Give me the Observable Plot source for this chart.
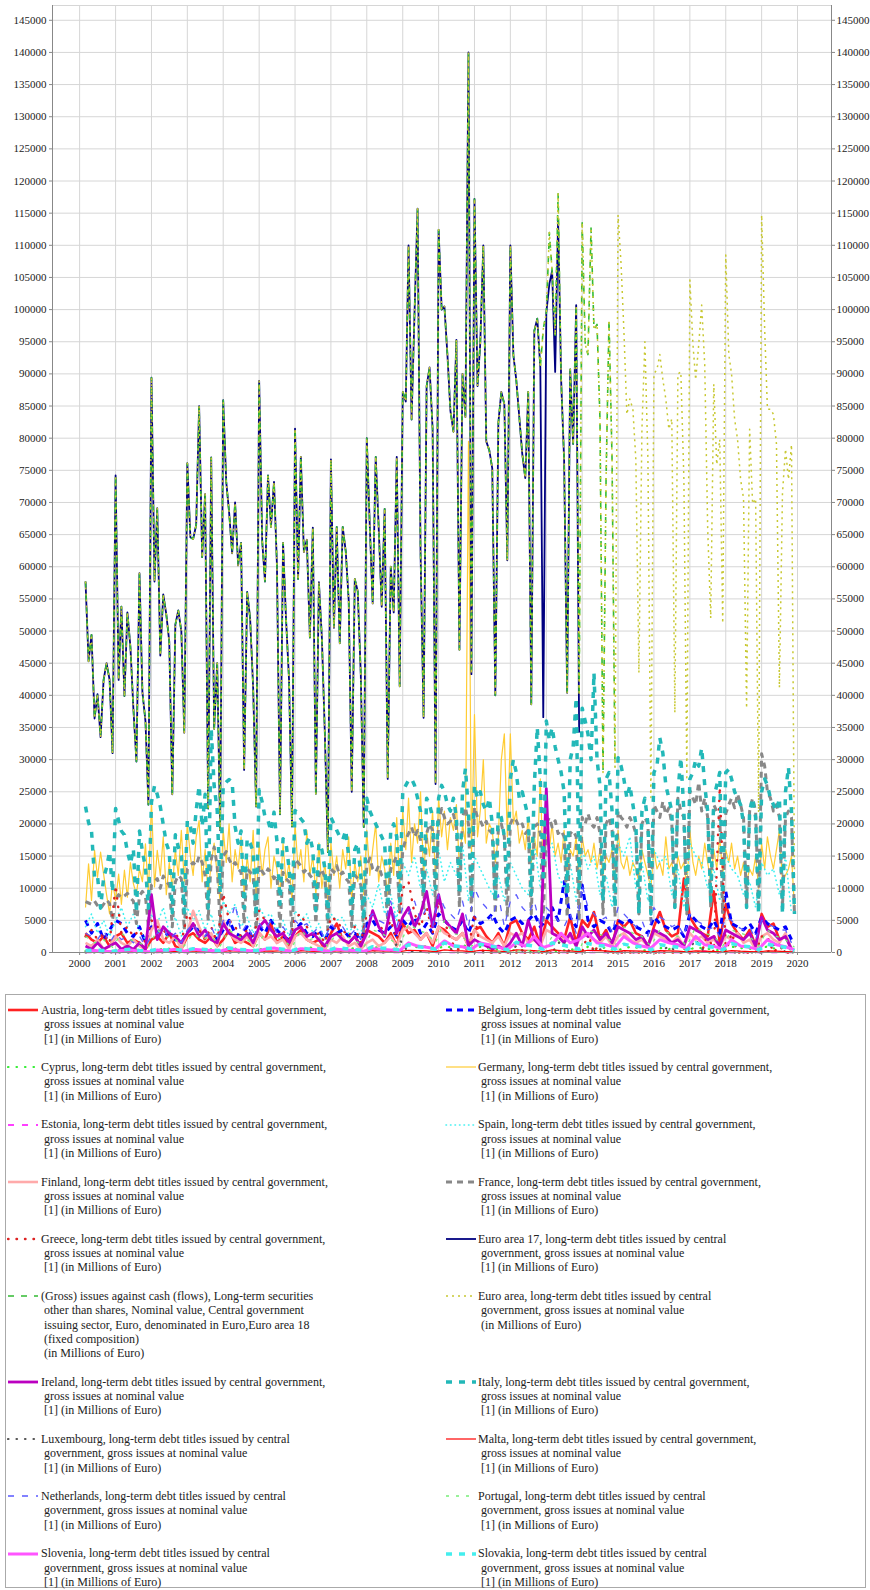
<!DOCTYPE html>
<html><head><meta charset="utf-8">
<script src="https://cdn.jsdelivr.net/npm/d3@7"></script>
<script src="https://cdn.jsdelivr.net/npm/@observablehq/plot@0.6"></script>
<style>
html,body{margin:0;padding:0;background:#fff;}
body{width:870px;height:1590px;position:relative;font-family:"Liberation Serif",serif;overflow:hidden;}
#chart{position:absolute;left:0;top:0;}
#chart svg text{font-family:"Liberation Serif",serif;}
#legend{position:absolute;left:5px;top:994px;width:861px;height:594px;border:1px solid #aaa;box-sizing:border-box;}
.entry{position:absolute;font-family:"Liberation Serif",serif;font-size:12px;line-height:14.3px;color:#222;white-space:nowrap;}
.entry .l{padding-left:3px;}
.entry .l0{padding-left:0;}
.sw{position:absolute;}
</style></head><body>
<div id="chart"></div><div id="legend"></div>
<script>
// ---------- DATA (millions of euro) ----------
// monthly series start March 2000, end December 2019
const euroArea = [
/*2000*/ 57700,45300,49400,36400,40200,33500,42400,45000,42400,31000,
/*2001*/ 74200,42400,53800,39900,52900,47500,38000,29700,59000,40500,36000,23000,
/*2002*/ 89400,57700,69100,46200,55700,52600,48400,24600,51000,53200,50000,34200,
/*2003*/ 76100,64600,64300,66500,85000,61500,71300,22400,77000,34800,45000,19000,
/*2004*/ 85900,73200,68500,62100,70000,60200,63700,28400,56100,52000,41100,22700,
/*2005*/ 88900,64000,57700,74200,66200,73200,60200,21500,63700,52000,42400,19600,
/*2006*/ 81500,58100,77100,62300,64200,49000,66100,24700,57600,49000,33800,15600,
/*2007*/ 76700,50500,66200,48100,66200,62400,54800,25000,58100,56200,43300,19500,
/*2008*/ 80000,66200,54300,77100,66200,53800,69000,27000,60000,52900,77100,41400,
/*2009*/ 87200,85700,110000,82900,99500,115700,62400,36500,88100,91000,81400,26200,
/*2010*/ 112400,100000,100500,92900,84300,81000,95300,47100,90000,83300,140000,43300,
/*2011*/ 117200,88100,94800,110000,79500,78100,75300,40000,82400,87200,85300,61000,
/*2012*/ 110000,92900,89100,83300,77600,73800,87200,38600,96700,98600,91000,97000,
/*2013*/ 99500,112000,106000,96000,118000,89000,76700,40400,90700,79100,100700,40000,
/*2014*/ 113500,94600,93000,112700,96900,97700,83000,28000,73600,98400,76700,28800,
/*2015*/ 114700,107000,96900,83700,86100,84500,76700,43500,81400,95000,76700,24100,
/*2016*/ 90000,90700,93000,89100,86100,81400,83000,37300,90000,90300,73600,27200,
/*2017*/ 104600,94600,89100,94600,100700,91400,65900,52000,88400,75900,79800,51200,
/*2018*/ 108500,93000,90000,83000,79800,73600,70600,38000,81400,69800,70600,21800,
/*2019*/ 114700,96900,84500,84500,83700,79100,41200,71400,78300,73600,79000,12000
];
// Euro area 17 and Euro area 18 follow the same path up to their last month; where the navy line differs:
const euroArea17Last = "2013-12";
const euroArea18Last = "2014-12";
const euroArea17Diff = [["2012-12",36600],["2013-02",104000],["2013-03",106000],["2013-04",90300],["2013-05",114000],["2013-12",34200]];

const italy = [
/*2000*/ 22700,20200,18900,11600,11900,6900,11600,13200,15700,9400,
/*2001*/ 22400,20500,18900,18300,15700,13800,16100,6200,18900,15700,13200,6900,
/*2002*/ 23400,25900,24600,22700,19900,17000,15700,6200,18300,16400,15100,6200,
/*2003*/ 20500,19600,17000,22100,25900,19600,24600,6900,34800,25900,22100,9400,
/*2004*/ 26000,26500,26900,26500,19600,17000,18900,6900,17700,17000,15700,5600,
/*2005*/ 25300,23400,21100,20500,18900,21800,17300,7500,17700,17000,13200,6900,
/*2006*/ 22100,21500,20800,20200,17000,18000,16000,6500,17000,16000,13000,5500,
/*2007*/ 21000,20000,19000,18000,17500,19000,15000,6000,16000,17000,12000,5000,
/*2008*/ 24000,22000,21000,20000,19000,18000,17000,7000,19000,20000,18000,8000,
/*2009*/ 25000,26000,26800,27000,26000,24000,22000,9000,24000,23000,21000,10000,
/*2010*/ 24000,26000,25000,23000,22000,24000,21000,9000,25000,28600,22000,9000,
/*2011*/ 26000,24000,25000,23000,22000,24000,20000,8000,22000,21000,18000,10000,
/*2012*/ 27000,30000,28000,24000,25000,23000,21000,9000,26000,35000,27000,11000,
/*2013*/ 36000,33000,35000,32000,30000,28000,25000,9000,30000,32000,39600,10000,
/*2014*/ 38000,36000,34000,30000,43500,30000,26000,8000,27000,28000,22000,7000,
/*2015*/ 30300,29000,27000,24000,26000,23000,20000,6000,22000,24000,20000,6000,
/*2016*/ 28000,29000,33400,31000,26000,24000,22000,7000,25000,30300,22000,6000,
/*2017*/ 27000,28000,30000,29000,31800,26000,22000,8000,24000,26000,28000,9000,
/*2018*/ 28000,28500,27000,25000,24000,23000,20000,7000,22000,24000,21000,6000,
/*2019*/ 25000,27000,26000,24000,23000,22000,24000,6000,25000,28800,22000,6000
];
const germany = [
/*2000*/ 7000,13800,8100,15900,11700,15600,12200,9000,6000,11000,
/*2001*/ 8100,12200,7500,12800,8600,14000,10700,9000,13000,11000,16900,9000,
/*2002*/ 23700,10200,15900,12000,18000,9000,14000,10000,16000,12000,19000,11000,
/*2003*/ 20000,15000,12000,18000,20500,11000,16000,9000,14000,17000,12000,8000,
/*2004*/ 19000,14000,20000,11000,16000,13000,18000,9000,15000,11000,19000,8000,
/*2005*/ 17000,12000,16000,18000,10000,15000,13000,9000,17000,11000,14000,8000,
/*2006*/ 20000,13000,16000,11000,19000,12000,15000,9000,17000,10000,14000,8000,
/*2007*/ 17000,12000,15000,10000,16000,13000,18000,8000,14000,11000,15000,9000,
/*2008*/ 19000,12000,16000,20000,11000,15000,13000,9000,17000,12000,21000,10000,
/*2009*/ 22000,16000,24000,14000,20000,17000,25000,12000,19000,15000,22000,11000,
/*2010*/ 24000,18000,22000,16000,21000,19000,23000,13000,20000,17000,79500,15000,
/*2011*/ 37000,18000,22000,30000,17000,20000,19000,14000,18000,30000,34000,18000,
/*2012*/ 34000,20000,22000,17000,19000,16000,21000,14000,18000,15000,27000,12000,
/*2013*/ 18000,16000,20000,15000,17000,14000,19000,12000,16000,15000,18000,11000,
/*2014*/ 18000,15000,16000,14000,17000,13000,16000,12000,15000,14000,16000,11000,
/*2015*/ 19000,14000,13000,15000,12000,14000,13000,11000,16000,14000,12000,10000,
/*2016*/ 16000,13000,14000,12000,18000,13000,14000,11000,15000,13000,14000,10000,
/*2017*/ 19000,14000,12000,15000,13000,17000,14000,11000,16000,13000,18000,12000,
/*2018*/ 16000,14000,17000,13000,15000,12000,14000,11000,13000,12000,15000,10000,
/*2019*/ 17000,13000,18000,15000,13000,16000,19000,11000,12000,13000,15000,7000
];
const france = [
/*2000*/ 7900,7700,7500,8000,7300,6800,7500,8200,7600,5000,
/*2001*/ 8300,9000,8500,8800,9200,8500,8000,4500,8800,9500,8700,4000,
/*2002*/ 10500,11000,11500,10000,11900,11000,10500,4000,11000,12000,11500,3500,
/*2003*/ 13000,13500,14000,13500,15000,14000,12000,5000,14500,16400,13500,4000,
/*2004*/ 15000,15700,14500,13500,14000,13000,12500,4500,13000,12500,12000,3500,
/*2005*/ 13500,12600,12000,13000,12500,11500,12000,4000,12500,11500,11000,3000,
/*2006*/ 14500,14000,13500,12500,13000,12000,11500,4500,12000,13000,11500,3500,
/*2007*/ 13000,12500,13500,12000,12500,11500,11000,4000,12000,11500,10500,3000,
/*2008*/ 13500,14700,13000,12500,13500,12000,11500,5000,13000,14000,15000,6000,
/*2009*/ 16000,17600,18500,19500,18000,19000,17500,6500,18500,20000,19000,7000,
/*2010*/ 20500,22400,21000,20000,20400,21500,19500,7000,21000,22600,20000,6500,
/*2011*/ 22600,21000,20500,19500,20400,19000,18500,6000,19500,20000,18000,5500,
/*2012*/ 20000,21000,20500,19500,20000,18500,19000,6000,19500,20000,18500,5000,
/*2013*/ 20000,21000,19500,20500,18500,19000,18000,5500,18500,19000,18000,5000,
/*2014*/ 21000,20000,21600,20000,19500,21000,18500,6000,20000,21000,19000,5500,
/*2015*/ 22000,21000,20500,19500,21000,20000,18500,6000,20000,21000,20000,5000,
/*2016*/ 23000,22000,21000,23500,21500,22500,20000,7000,24000,22000,21000,6000,
/*2017*/ 25200,24000,23000,26500,22000,24000,21000,7000,23000,22000,21000,6000,
/*2018*/ 21600,23000,24000,22500,24700,23000,21000,7500,22000,24000,22000,6500,
/*2019*/ 30900,29000,25000,24000,22000,23000,21000,7000,21000,22000,21000,6000
];
// every second month, March 2000 to November 2019
const spain = [
/*2000*/ 4000,6000,3000,5000,2500,
/*2001*/ 5000,7000,4000,6000,3500,2000,
/*2002*/ 6000,4500,7000,3000,5500,2500,
/*2003*/ 7000,5000,6500,3500,6000,2500,
/*2004*/ 8000,6000,7500,4000,5500,3000,
/*2005*/ 7000,5500,6000,3500,5000,2500,
/*2006*/ 6500,5000,6000,3000,4500,2000,
/*2007*/ 6000,5000,5500,3000,4500,2500,
/*2008*/ 9000,7000,10700,6000,9000,5000,
/*2009*/ 14000,12000,15000,10000,13000,9000,
/*2010*/ 16000,11000,14000,12000,17000,8000,
/*2011*/ 15000,13000,11000,9000,12000,8000,
/*2012*/ 14000,12000,10000,9000,17000,10000,
/*2013*/ 15000,17000,12000,10000,14000,8000,
/*2014*/ 16000,13000,15000,9000,12000,7000,
/*2015*/ 17000,15000,18000,10000,14000,8000,
/*2016*/ 16000,14000,15000,9000,13000,7000,
/*2017*/ 17000,15000,14000,10000,13000,8000,
/*2018*/ 15000,13000,12000,9000,11000,7000,
/*2019*/ 14000,12000,13000,9000,15000,6000
];
const belgium = [
/*2000*/ 5000,3000,4500,2000,3500,
/*2001*/ 5000,4500,3000,2500,4000,1500,
/*2002*/ 4000,3500,2500,3000,2000,1500,
/*2003*/ 3000,4000,3500,2500,3000,2000,
/*2004*/ 3500,5000,3000,2500,4000,2000,
/*2005*/ 4000,3000,5000,3500,2500,2000,
/*2006*/ 3500,4500,3000,2500,3500,2000,
/*2007*/ 4000,3000,3500,2500,3000,2000,
/*2008*/ 4500,5000,3500,3000,4000,2500,
/*2009*/ 5000,4000,5500,3000,4500,3000,
/*2010*/ 6000,5000,4000,3500,5000,3000,
/*2011*/ 5500,4500,5000,6000,4000,3000,
/*2012*/ 5000,5500,4500,5000,6000,4000,
/*2013*/ 5000,7000,5000,11000,5500,4000,
/*2014*/ 10500,5000,4000,5000,4500,3000,
/*2015*/ 5000,4500,5000,4000,3500,3000,
/*2016*/ 5500,4500,4000,3500,4000,2500,
/*2017*/ 6000,5000,4000,3500,5000,3000,
/*2018*/ 9500,4500,4000,3500,4500,3000,
/*2019*/ 5500,4500,4000,3500,4000,2000
];
const netherlands = [
/*2000*/ 3000,2500,2000,3500,1500,
/*2001*/ 3000,2000,2500,1500,2500,1000,
/*2002*/ 2500,3000,4000,2000,3000,1500,
/*2003*/ 3500,4500,3000,2500,4000,2000,
/*2004*/ 5000,4000,7500,3000,4500,2000,
/*2005*/ 4500,3500,5000,3000,4000,2500,
/*2006*/ 5000,4000,4500,3000,4000,2000,
/*2007*/ 4500,3500,4000,2500,3500,2000,
/*2008*/ 5000,6000,5000,4500,8000,4000,
/*2009*/ 7000,6000,8000,5000,7000,4000,
/*2010*/ 9000,7000,6000,5000,8000,4000,
/*2011*/ 10000,8000,7000,5000,9000,4000,
/*2012*/ 8000,9000,7000,6000,8000,4000,
/*2013*/ 7000,6000,5000,4000,6000,3000,
/*2014*/ 10500,7000,6000,5000,5500,3000,
/*2015*/ 7000,6000,5000,4000,5000,2500,
/*2016*/ 7000,5500,5000,4000,4500,2500,
/*2017*/ 6000,5000,4500,3500,4000,2500,
/*2018*/ 5500,5000,4000,3500,4000,2000,
/*2019*/ 5000,4500,4000,3500,3500,1500
];
const austria = [
/*2000*/ 3000,2000,1500,2500,1000,
/*2001*/ 2500,3000,1500,2000,1500,500,
/*2002*/ 2000,2500,1500,3000,1000,500,
/*2003*/ 2500,3000,2000,1500,2500,1000,
/*2004*/ 2000,3500,1500,2000,1500,1000,
/*2005*/ 3000,2000,4500,1500,2500,1000,
/*2006*/ 2500,3500,2000,1500,2000,500,
/*2007*/ 3000,4500,2000,1500,2500,1000,
/*2008*/ 3500,3000,2500,1500,3000,1000,
/*2009*/ 4500,3000,3500,2000,3000,1000,
/*2010*/ 4000,3500,2500,2000,3000,1000,
/*2011*/ 3500,4000,2500,1500,3000,1000,
/*2012*/ 4500,5000,3000,2000,4000,1000,
/*2013*/ 5000,4000,3000,2000,5500,1500,
/*2014*/ 5000,4000,6300,2000,3500,1000,
/*2015*/ 5000,4000,5000,3000,2500,1000,
/*2016*/ 4000,6300,3500,2500,3000,11500,
/*2017*/ 5500,4000,3000,2500,9500,1500,
/*2018*/ 7500,4500,3000,2000,3500,1000,
/*2019*/ 6000,4000,4500,2000,2500,500
];
const ireland = [
/*2000*/ 1000,500,1500,500,1000,
/*2001*/ 1500,500,1000,500,1500,500,
/*2002*/ 9000,2000,4000,3000,2500,1500,
/*2003*/ 3000,4500,2500,3500,2000,1500,
/*2004*/ 4500,3000,2500,2000,3000,1500,
/*2005*/ 4000,5000,3500,2500,3000,1500,
/*2006*/ 3500,4000,2500,3000,2000,1000,
/*2007*/ 2500,3000,2000,1500,2500,1000,
/*2008*/ 3000,6500,4000,2500,7000,3000,
/*2009*/ 5500,7000,4000,6000,9500,4000,
/*2010*/ 9000,5000,4000,3000,6000,1000,
/*2011*/ 2000,1500,1000,500,1000,500,
/*2012*/ 1500,3000,1000,5000,2000,1000,
/*2013*/ 25500,3000,2500,1500,3000,1000,
/*2014*/ 4000,2500,3500,2000,3000,1500,
/*2015*/ 4000,3500,3000,2000,2500,1000,
/*2016*/ 3500,3000,2500,1500,2000,1000,
/*2017*/ 4000,3500,3000,2000,2500,1000,
/*2018*/ 3500,3000,2500,2000,3000,1000,
/*2019*/ 5500,3500,3000,2000,2500,500
];
const greece = [
/*2000*/ 2500,3500,2000,3000,1500,
/*2001*/ 10400,3000,4000,2500,3500,1500,
/*2002*/ 5000,4000,3500,2500,3000,1500,
/*2003*/ 6000,4500,3500,2000,4000,1500,
/*2004*/ 9100,5000,4000,2500,3500,2000,
/*2005*/ 6500,5000,4000,2500,3500,1500,
/*2006*/ 5500,6000,4000,2500,3000,1500,
/*2007*/ 5500,5000,3500,2500,4000,1500,
/*2008*/ 6000,5500,4500,3000,5000,2000,
/*2009*/ 10000,11000,6000,4000,7000,3000,
/*2010*/ 8000,5000,2000,500,500,500,
/*2011*/ 6000,500,0,0,0,0,
/*2012*/ 0,0,0,0,0,0,
/*2013*/ 0,0,0,0,0,0,
/*2014*/ 0,3000,0,1500,0,0,
/*2015*/ 0,0,0,0,0,0,
/*2016*/ 0,0,0,0,0,0,
/*2017*/ 0,0,0,3000,0,25700,
/*2018*/ 0,3000,0,0,0,0,
/*2019*/ 2500,2500,0,1000,0,0
];
const finland = [
/*2000*/ 1500,1000,2000,500,1000,
/*2001*/ 2500,1500,1000,2000,1000,500,
/*2002*/ 3500,5000,2000,1500,2500,500,
/*2003*/ 3000,6500,4000,2000,3000,1000,
/*2004*/ 5000,3000,2000,1500,2500,1000,
/*2005*/ 3000,2000,2500,1500,2000,500,
/*2006*/ 2500,3000,2000,1500,1000,500,
/*2007*/ 2000,1500,2500,1000,1500,500,
/*2008*/ 1500,2000,1000,1500,2500,1000,
/*2009*/ 3500,4000,3000,2000,3000,1500,
/*2010*/ 4000,3000,2500,2000,3000,1000,
/*2011*/ 3500,2500,2000,1500,2500,1000,
/*2012*/ 3000,2500,3000,1500,2000,1000,
/*2013*/ 3500,3000,2500,2000,2500,1000,
/*2014*/ 3000,2500,2000,1500,2500,1000,
/*2015*/ 2500,3000,2000,1500,2000,1000,
/*2016*/ 3000,2500,2000,1500,2500,1000,
/*2017*/ 3000,2000,2500,1500,2000,1000,
/*2018*/ 2500,2000,3000,1500,2000,500,
/*2019*/ 2500,3000,2000,1500,3000,500
];
// quarterly readings, March 2000 to December 2019
const cyprus = [
/*2000*/ 200,400,300,100, /*2001*/ 500,300,600,200, /*2002*/ 400,700,300,200, /*2003*/ 600,400,500,300,
/*2004*/ 800,500,400,300, /*2005*/ 700,600,500,200, /*2006*/ 500,800,400,300, /*2007*/ 600,400,700,200,
/*2008*/ 900,600,500,300, /*2009*/ 1200,800,1000,500, /*2010*/ 1000,700,1300,400, /*2011*/ 900,600,500,200,
/*2012*/ 400,300,200,100, /*2013*/ 300,200,600,100, /*2014*/ 900,500,800,300, /*2015*/ 600,1000,400,200,
/*2016*/ 700,500,1100,300, /*2017*/ 800,600,500,200, /*2018*/ 900,700,600,300, /*2019*/ 1000,500,800,200
];
const estonia = [
/*2000*/ 0,0,0,0, /*2001*/ 0,0,0,0, /*2002*/ 0,50,0,0, /*2003*/ 0,0,0,0,
/*2004*/ 0,0,50,0, /*2005*/ 0,0,0,0, /*2006*/ 0,0,0,0, /*2007*/ 0,0,0,0,
/*2008*/ 0,0,0,0, /*2009*/ 0,100,0,0, /*2010*/ 0,0,0,0, /*2011*/ 0,0,0,0,
/*2012*/ 0,0,0,0, /*2013*/ 0,0,0,0, /*2014*/ 0,0,0,0, /*2015*/ 0,0,0,0,
/*2016*/ 0,0,0,0, /*2017*/ 0,200,0,0, /*2018*/ 0,0,0,0, /*2019*/ 0,0,0,0
];
const luxembourg = [
/*2000*/ 0,0,0,0, /*2001*/ 0,0,0,0, /*2002*/ 0,0,0,0, /*2003*/ 0,0,100,0,
/*2004*/ 0,0,0,0, /*2005*/ 0,0,0,0, /*2006*/ 0,0,0,0, /*2007*/ 0,0,0,0,
/*2008*/ 0,0,0,2000, /*2009*/ 0,300,0,0, /*2010*/ 2000,0,0,0, /*2011*/ 0,0,0,0,
/*2012*/ 1000,0,0,0, /*2013*/ 0,2000,0,0, /*2014*/ 0,750,0,0, /*2015*/ 0,0,0,0,
/*2016*/ 0,1000,0,0, /*2017*/ 2000,0,0,0, /*2018*/ 0,0,0,0, /*2019*/ 0,1700,0,0
];
const malta = [
/*2000*/ 100,200,100,100, /*2001*/ 200,150,100,50, /*2002*/ 200,150,200,100, /*2003*/ 250,200,150,100,
/*2004*/ 300,200,150,100, /*2005*/ 250,200,300,100, /*2006*/ 300,200,150,100, /*2007*/ 250,300,200,100,
/*2008*/ 300,250,200,150, /*2009*/ 350,300,250,150, /*2010*/ 400,300,250,150, /*2011*/ 350,300,200,150,
/*2012*/ 400,350,300,150, /*2013*/ 400,300,250,150, /*2014*/ 350,300,250,100, /*2015*/ 300,250,200,100,
/*2016*/ 300,250,200,100, /*2017*/ 250,200,150,100, /*2018*/ 300,200,150,100, /*2019*/ 250,200,150,100
];
const portugal = [
/*2000*/ 2500,1500,2000,800, /*2001*/ 3000,2000,1500,800, /*2002*/ 3500,2500,2000,1000, /*2003*/ 3000,2000,2500,1000,
/*2004*/ 3500,2500,2000,1000, /*2005*/ 3000,2500,2000,800, /*2006*/ 3500,2000,2500,1000, /*2007*/ 3000,2500,2000,800,
/*2008*/ 3500,3000,2000,1000, /*2009*/ 4500,3500,3000,1500, /*2010*/ 5000,3000,2500,1000, /*2011*/ 1500,500,200,100,
/*2012*/ 200,300,200,100, /*2013*/ 2500,1500,500,300, /*2014*/ 3500,3000,2500,1000, /*2015*/ 4000,3000,2500,1000,
/*2016*/ 3500,3000,2500,1000, /*2017*/ 4000,3000,2500,1000, /*2018*/ 3500,3000,2500,1000, /*2019*/ 3500,2500,2000,800
];
const slovenia = [
/*2000*/ 200,300,200,100, /*2001*/ 300,400,200,100, /*2002*/ 400,300,500,200, /*2003*/ 500,400,300,200,
/*2004*/ 600,400,300,200, /*2005*/ 500,700,400,200, /*2006*/ 600,500,400,200, /*2007*/ 500,400,300,200,
/*2008*/ 600,500,400,300, /*2009*/ 1500,1000,800,600, /*2010*/ 1800,1000,900,500, /*2011*/ 1500,1200,800,500,
/*2012*/ 1500,1000,2500,800, /*2013*/ 1200,3000,1500,2000, /*2014*/ 3000,1500,1200,800, /*2015*/ 2500,1500,1000,700,
/*2016*/ 2000,1500,1200,600, /*2017*/ 2500,1200,1000,500, /*2018*/ 2000,1000,800,500, /*2019*/ 2000,1200,900,400
];
const slovakia = [
/*2000*/ 300,400,300,200, /*2001*/ 400,500,300,200, /*2002*/ 500,400,500,300, /*2003*/ 600,500,400,300,
/*2004*/ 700,500,400,300, /*2005*/ 600,700,500,300, /*2006*/ 700,500,600,300, /*2007*/ 800,600,500,300,
/*2008*/ 900,700,600,400, /*2009*/ 1200,900,800,500, /*2010*/ 1500,1000,900,500, /*2011*/ 1300,1000,800,400,
/*2012*/ 1600,1200,1000,500, /*2013*/ 1500,1200,900,500, /*2014*/ 1400,1100,1000,500, /*2015*/ 1300,1000,900,400,
/*2016*/ 1200,1000,800,400, /*2017*/ 1500,1000,800,400, /*2018*/ 1400,1000,900,400, /*2019*/ 1300,1000,800,300
];

(function () {
// ---------- helpers ----------
const monthDate = i => new Date(Date.UTC(2000, 2 + i, 1));
const toRows = (values, step) => values.map((v, i) => ({date: monthDate(i * step), value: v}));
const ym = s => { const [y, m] = s.split("-").map(Number); return new Date(Date.UTC(y, m - 1, 1)); };
const eaRows = toRows(euroArea, 1);
const ea18Rows = eaRows.filter(d => d.date <= ym(euroArea18Last));
const diff = new Map(euroArea17Diff.map(([k, v]) => [+ym(k), v]));
const ea17Rows = eaRows.filter(d => d.date <= ym(euroArea17Last)).map(d => ({date: d.date, value: diff.has(+d.date) ? diff.get(+d.date) : d.value}));

const std = ["long-term debt titles issued by central government,", "gross issues at nominal value", "[1] (in Millions of Euro)"];
const lines1 = name => [name + ", " + std[0], std[1], std[2]];
const lines2 = name => [name + ", long-term debt titles issued by central", "government, gross issues at nominal value", "[1] (in Millions of Euro)"];

// legend order / drawing order, with styles
const series = [
 {key:"Austria", rows: toRows(austria,2), lines: lines1("Austria"), color:"#ff2222", w:2.6, dash:null},
 {key:"Belgium", rows: toRows(belgium,2), lines: lines1("Belgium"), color:"#0000ff", w:3, dash:"6,5"},
 {key:"Cyprus", rows: toRows(cyprus,3), lines: lines1("Cyprus"), color:"#33ee33", w:2.2, dash:"0.5,8", cap:"round"},
 {key:"Germany", rows: toRows(germany,1), lines: lines1("Germany"), color:"#ffcc33", w:1.2, dash:null},
 {key:"Estonia", rows: toRows(estonia,3), lines: lines1("Estonia"), color:"#ff00ff", w:1.3, dash:"6,8"},
 {key:"Spain", rows: toRows(spain,2), lines: lines1("Spain"), color:"#40f0f0", w:1.6, dash:"0.5,4", cap:"round"},
 {key:"Finland", rows: toRows(finland,2), lines: lines1("Finland"), color:"#ffaaaa", w:2.6, dash:null},
 {key:"France", rows: toRows(france,1), lines: lines1("France"), color:"#888888", w:3, dash:"6,5"},
 {key:"Greece", rows: toRows(greece,2), lines: lines1("Greece"), color:"#dd2222", w:2.4, dash:"0.5,8", cap:"round"},
 {key:"EA17", rows: ea17Rows, lines: ["Euro area 17, long-term debt titles issued by central", "government, gross issues at nominal value", "[1] (in Millions of Euro)"], color:"#000080", w:1.8, dash:null},
 {key:"EA18", rows: ea18Rows, lines: ["(Gross) issues against cash (flows), Long-term securities", "other than shares, Nominal value, Central government", "issuing sector, Euro, denominated in Euro,Euro area 18", "(fixed composition)", "(in Millions of Euro)"], color:"#33bb33", w:1.6, dash:"6,7"},
 {key:"EA", rows: eaRows, lines: ["Euro area, long-term debt titles issued by central", "government, gross issues at nominal value", "(in Millions of Euro)"], color:"#c8c832", w:1.5, dash:"2,4"},
 {key:"Ireland", rows: toRows(ireland,2), lines: lines1("Ireland"), color:"#bb00c0", w:2.8, dash:null},
 {key:"Italy", rows: toRows(italy,1), lines: lines1("Italy"), color:"#22b8b8", w:3.5, dash:"6,7"},
 {key:"Luxembourg", rows: toRows(luxembourg,3), lines: lines2("Luxembourg"), color:"#555555", w:2.2, dash:"0.5,8", cap:"round"},
 {key:"Malta", rows: toRows(malta,3), lines: lines1("Malta"), color:"#ff0000", w:1.2, dash:null},
 {key:"Netherlands", rows: toRows(netherlands,2), lines: lines2("Netherlands"), color:"#5a5aff", w:1.3, dash:"6,8"},
 {key:"Portugal", rows: toRows(portugal,3), lines: lines2("Portugal"), color:"#77ee77", w:1.3, dash:"3,7"},
 {key:"Slovenia", rows: toRows(slovenia,3), lines: lines2("Slovenia"), color:"#ff55ff", w:3, dash:null},
 {key:"Slovakia", rows: toRows(slovakia,3), lines: lines2("Slovakia"), color:"#44eeee", w:3.5, dash:"6,7"}
];

// ---------- chart ----------
const yearTicks = d3.range(2000, 2021).map(y => new Date(Date.UTC(y, 0, 1)));
const yTicks = d3.range(0, 145001, 5000);
const xDomain = [new Date(Date.UTC(1999, 2, 31)), new Date(Date.UTC(2020, 11, 12))];

const chart = Plot.plot({
  width: 870, height: 980,
  marginTop: 5, marginLeft: 52, marginRight: 39, marginBottom: 28,
  x: {type: "utc", domain: xDomain},
  y: {domain: [0, 147300]},
  style: {fontFamily: "Liberation Serif, serif", fontSize: "11px", color: "#222", background: "#fff"},
  marks: [
    Plot.gridX(yearTicks, {stroke: "#d6d6d6", strokeOpacity: 1}),
    Plot.gridY(yTicks, {stroke: "#d6d6d6", strokeOpacity: 1}),
    Plot.frame({stroke: "#d6d6d6"}),
    ...series.map(s => Plot.lineY(s.rows, {x: "date", y: "value", stroke: s.color, strokeWidth: s.w,
        strokeDasharray: s.dash || undefined, strokeLinecap: s.cap || "butt", strokeLinejoin: "round"})),
    Plot.ruleX([xDomain[0]], {stroke: "#888"}),
    Plot.ruleX([xDomain[1]], {stroke: "#888"}),
    Plot.ruleY([0], {stroke: "#888"}),
    Plot.axisY(yTicks, {anchor: "left", tickSize: 3, tickPadding: 3, tickFormat: d3.format("d"), label: null, stroke: "#888"}),
    Plot.axisY(yTicks, {anchor: "right", tickSize: 3, tickPadding: 2, tickFormat: d3.format("d"), label: null, stroke: "#888"}),
    Plot.axisX(yearTicks, {anchor: "bottom", tickSize: 3, tickPadding: 4, tickFormat: d3.utcFormat("%Y"), label: null, stroke: "#888"})
  ]
});
document.getElementById("chart").appendChild(chart);

// ---------- legend ----------
const legend = document.getElementById("legend");
const lh = 14.3;
let rowTop = 8;
const ns = "http://www.w3.org/2000/svg";
for (let r = 0; r < series.length; r += 2) {
  const pair = [series[r], series[r + 1]];
  const maxLines = Math.max(...pair.map(s => s ? s.lines.length : 0));
  pair.forEach((s, c) => {
    if (!s) return;
    const swX = c === 0 ? 1 : 439, txX = c === 0 ? 35 : 472;
    const svg = document.createElementNS(ns, "svg");
    svg.setAttribute("width", 32); svg.setAttribute("height", 10);
    svg.setAttribute("class", "sw");
    svg.style.left = swX + "px"; svg.style.top = (rowTop + lh / 2 - 5) + "px";
    const ln = document.createElementNS(ns, "line");
    ln.setAttribute("x1", 1); ln.setAttribute("x2", 31); ln.setAttribute("y1", 5); ln.setAttribute("y2", 5);
    ln.setAttribute("stroke", s.color); ln.setAttribute("stroke-width", s.w);
    if (s.dash) ln.setAttribute("stroke-dasharray", s.dash);
    if (s.cap) ln.setAttribute("stroke-linecap", s.cap);
    svg.appendChild(ln);
    legend.appendChild(svg);
    const div = document.createElement("div");
    div.className = "entry";
    div.style.left = txX + "px"; div.style.top = rowTop + "px";
    s.lines.forEach((t, i) => {
      const d = document.createElement("div");
      d.className = i === 0 ? "l0" : "l";
      d.textContent = t;
      div.appendChild(d);
    });
    legend.appendChild(div);
  });
  rowTop += (maxLines + 1) * lh;
}
})();
</script></body></html>
